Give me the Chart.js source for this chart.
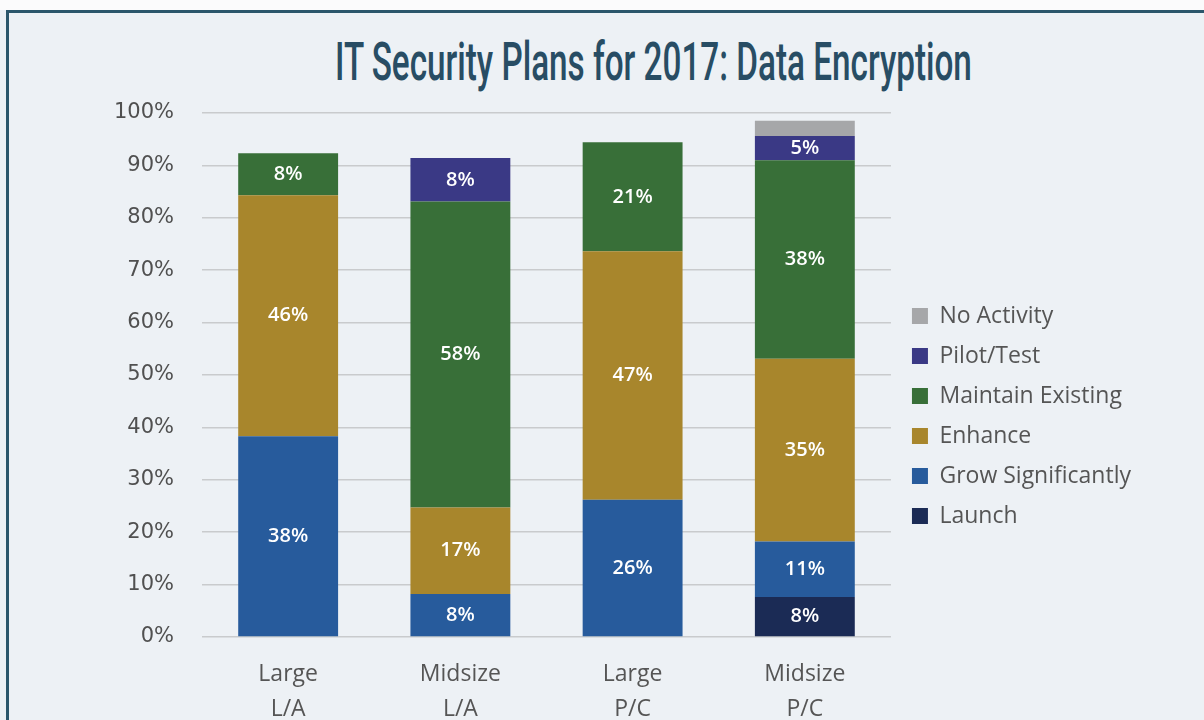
<!DOCTYPE html>
<html>
<head>
<meta charset="utf-8">
<script src="https://cdn.jsdelivr.net/npm/chart.js@4"></script>
<style>
  html, body { margin: 0; padding: 0; }
  body { width: 1204px; height: 720px; overflow: hidden; background: #edf1f5; position: relative; }
  .topstrip { position: absolute; left: 0; top: 0; width: 1204px; height: 10px; background: #fbfbfc; }
  .frame { position: absolute; left: 6px; top: 10px; right: -10px; bottom: -10px; border-top: 3px solid #2b566b; border-left: 3px solid #2b566b; }
  #title { position: absolute; top: 30px; left: 653px; white-space: nowrap; font-family: Roboto, "Liberation Sans", sans-serif; font-weight: 500; font-size: 54px; color: #284d64; transform-origin: 0 0; }
  #chart-wrap { position: absolute; left: 0; top: 0; width: 1204px; height: 747px; }
</style>
</head>
<body>
<div class="topstrip"></div>
<div class="frame"></div>
<div id="title">IT Security Plans for 2017: Data Encryption</div>
<div id="chart-wrap"><canvas id="chart" width="1204" height="747"></canvas></div>
<script>
const kategori = [["Large", "L/A"], ["Midsize", "L/A"], ["Large", "P/C"], ["Midsize", "P/C"]];
const yTicks = [0, 10, 20, 30, 40, 50, 60, 70, 80, 90, 100];

const launch = [null, null, null, 7.6];
const grow = [38.3, 8.2, 26.2, 10.6];
const enhance = [46.0, 16.5, 47.4, 34.9];
const maintain = [8.0, 58.4, 20.8, 37.9];
const pilot = [null, 8.3, null, 4.6];
const noActivity = [null, null, null, 2.9];

const seriesNames = ["Launch", "Grow Significantly", "Enhance", "Maintain Existing", "Pilot/Test", "No Activity"];
const seriesColors = ["#1b2b55", "#275b9c", "#a8862c", "#386f38", "#3a3985", "#a6a7a9"];

// judul dibuat sempit seperti font condensed di gambar asli
const judul = document.getElementById("title");
const skala = 637 / judul.offsetWidth;
judul.style.transform = `translateX(-318px) scaleX(${skala})`;

const labelPlugin = {
  id: "labelPersen",
  afterLayout(chart) {
    // geser legenda sedikit ke kanan dan ke atas
    chart.legend.left += 4;
    chart.legend.right += 4;
    chart.legend.top -= 14;
    chart.legend.bottom -= 14;
  },
  afterDatasetsDraw(chart) {
    const ctx = chart.ctx;
    ctx.save();
    ctx.font = "600 20px 'Open Sans', sans-serif";
    ctx.fillStyle = "#ffffff";
    ctx.textAlign = "center";
    ctx.textBaseline = "middle";
    chart.data.datasets.forEach((ds, i) => {
      const meta = chart.getDatasetMeta(i);
      meta.data.forEach((bar, j) => {
        const v = ds.data[j];
        if (v == null || v < 4) return;
        const p = bar.getProps(["x", "y", "base"], true);
        ctx.fillText(Math.round(v) + "%", p.x, (p.y + p.base) / 2);
      });
    });
    ctx.restore();
  }
};

const dataSeri = [launch, grow, enhance, maintain, pilot, noActivity];

new Chart(document.getElementById("chart"), {
  type: "bar",
  data: {
    labels: kategori,
    datasets: dataSeri.map((d, i) => ({
      label: seriesNames[i],
      data: d,
      backgroundColor: seriesColors[i],
      borderWidth: 0,
      categoryPercentage: 1,
      barPercentage: 0.58
    }))
  },
  options: {
    responsive: false,
    animation: false,
    layout: { padding: { left: 86, right: 67, top: 113, bottom: 0 } },
    plugins: {
      tooltip: { enabled: false },
      legend: {
        position: "right",
        reverse: true,
        labels: {
          boxWidth: 16,
          boxHeight: 16,
          padding: 17,
          color: "#555555",
          font: { family: "'Open Sans', sans-serif", size: 23 }
        }
      }
    },
    scales: {
      x: {
        stacked: true,
        grid: { display: false, drawTicks: false },
        border: { display: false },
        ticks: {
          padding: 21,
          color: "#555555",
          font: { family: "'Open Sans', sans-serif", size: 23, lineHeight: 1.48 }
        }
      },
      y: {
        stacked: true,
        min: 0,
        max: 100,
        afterBuildTicks(scale) { scale.ticks = yTicks.map(v => ({ value: v })); },
        grid: { color: "#c9cbcd", lineWidth: 1.5, drawTicks: false },
        border: { display: false },
        ticks: {
          padding: 28,
          color: "#505050",
          font: { family: "'DejaVu Sans', sans-serif", size: 21 },
          callback: v => v + "%"
        }
      }
    }
  },
  plugins: [labelPlugin]
});
</script>
</body>
</html>
